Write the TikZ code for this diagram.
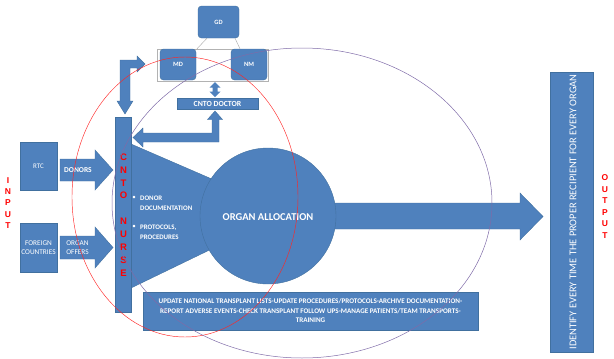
\documentclass[tikz,border=0pt]{standalone}
\usepackage{fontspec}
\setmainfont{Carlito}
\newfontfamily\arialf{Liberation Sans}
\usetikzlibrary{calc}
\definecolor{blueF}{HTML}{4F81BD}
\definecolor{blueD}{HTML}{41709F}
\definecolor{purp}{HTML}{7F6BA8}
\definecolor{redT}{HTML}{FF0000}
\tikzset{
  blk/.style={fill=blueF, draw=blueD, line width=0.4pt, text=white, align=center, inner sep=0pt},
  rbox/.style={blk, rounded corners=3.5pt},
  shp/.style={fill=blueF, draw=blueD, line width=0.4pt},
  wlab/.style={text=white, align=center, inner sep=0pt},
  redlet/.style={text=redT, align=center, inner sep=0pt, font=\arialf\bfseries\fontsize{9.5}{12.9}\selectfont},
}
\begin{document}
\begin{tikzpicture}[x=1pt,y=-1pt]
\useasboundingbox (0,0) rectangle (614,359);
% top hierarchy
\node[rbox, minimum width=41pt, minimum height=32pt, font=\bfseries\fontsize{6.5}{7}\selectfont] (gd) at (218.5,22) {GD};
\node[draw=gray!60, line width=0.5pt, minimum width=111pt, minimum height=32pt, inner sep=0] (frame) at (212.5,65) {};
\node[rbox, minimum width=36pt, minimum height=31pt, font=\bfseries\fontsize{6.5}{7}\selectfont] (md) at (178,64.5) {MD};
\node[rbox, minimum width=36pt, minimum height=31pt, font=\bfseries\fontsize{6.5}{7}\selectfont] (nm) at (249,64.5) {NM};
\draw[gray!70, line width=0.4pt] ($(gd.south)+(-11.5,0)$) -- ($(frame.north)+(-15.5,0)$);
\draw[gray!70, line width=0.4pt] ($(gd.south)+(16.5,0)$) -- ($(frame.north)+(27.5,0)$);
\node[blk, minimum width=81pt, minimum height=11pt, font=\bfseries\fontsize{7.8}{8}\selectfont] (doc) at (217.5,103.5) {CNTO DOCTOR};
% double arrow frame <-> doctor
\fill[blueF] (215,82) -- (220.5,87.5) -- (217.5,87.5) -- (217.5,91.5) -- (220.5,91.5) -- (215,97) -- (209.5,91.5) -- (212.5,91.5) -- (212.5,87.5) -- (209.5,87.5) -- cycle;
% input boxes
\node[blk, minimum width=37pt, minimum height=48pt, font=\fontsize{7}{8}\selectfont] (rtc) at (38.5,166) {RTC};
\node[blk, minimum width=37pt, minimum height=49pt, font=\fontsize{7.3}{9}\selectfont] (fc) at (38.5,247.5) {FOREIGN\\COUNTRIES};
% donors arrow
\fill[shp] (60,159) -- (95,159) -- (95,150) -- (113,170) -- (95,190) -- (95,181) -- (60,181) -- cycle;
\node[wlab, font=\bfseries\fontsize{7.5}{8}\selectfont] (donors) at (78,170.5) {DONORS};
% offers arrow
\fill[shp] (60,236) -- (95,236) -- (95,227) -- (113,247.5) -- (95,268) -- (95,259) -- (60,259) -- cycle;
\node[wlab, font=\fontsize{7.3}{9.5}\selectfont] (offers) at (77.5,247.5) {ORGAN\\OFFERS};
% funnel triangle
\fill[shp] (131,144) -- (288,212) -- (131,288) -- cycle;
% big output arrow
\fill[shp] (330,203) -- (520,203) -- (520,193) -- (543,216.5) -- (520,240) -- (520,229) -- (330,229) -- cycle;
% organ allocation circle
\node[circle, fill=blueF, draw=blueD, line width=0.4pt, minimum size=136pt, inner sep=0] (alloc) at (268,216) {};
\node[wlab, font=\bfseries\fontsize{10.5}{11}\selectfont] (alloclab) at (268,217) {ORGAN ALLOCATION};
% nurse bar
\node[blk, minimum width=16pt, minimum height=195pt] (nurse) at (123,214.5) {};
\node[redlet] (nurselab) at (123.5,215) {C\\N\\T\\O\\[12.9pt]N\\U\\R\\S\\E};
% arrow nurse -> MD
\fill[shp] (125,114) -- (133,101) -- (130,101) -- (130,68) -- (137,68) -- (137,72) -- (145,64) -- (137,56) -- (137,60) -- (120,60) -- (120,101) -- (117,101) -- cycle;
% arrow doctor -> nurse
\fill[shp] (215,111) -- (222.5,119.5) -- (219,119.5) -- (219,142) -- (143,142) -- (143,147) -- (133,137.5) -- (143,128) -- (143,133) -- (212,133) -- (212,119.5) -- (207.5,119.5) -- cycle;
% bullet texts
\node[wlab, font=\fontsize{7}{7}\selectfont] (b1) at (134,198) {\textbullet};
\node[wlab, anchor=west, align=left, font=\bfseries\fontsize{6.9}{9.8}\selectfont] (t1) at (140,203) {DONOR\\DOCUMENTATION};
\node[wlab, font=\fontsize{7}{7}\selectfont] (b2) at (134,227) {\textbullet};
\node[wlab, anchor=west, align=left, font=\bfseries\fontsize{6.9}{9.8}\selectfont] (t2) at (140,232) {PROTOCOLS,\\PROCEDURES};
% bottom box
\node[blk, minimum width=335pt, minimum height=38pt, font=\bfseries\fontsize{7.1}{9.5}\selectfont] (tasks) at (310.5,311) {UPDATE NATIONAL TRANSPLANT LISTS-UPDATE PROCEDURES/PROTOCOLS-ARCHIVE DOCUMENTATION-\\REPORT ADVERSE EVENTS-CHECK TRANSPLANT FOLLOW UPS-MANAGE PATIENTS/TEAM TRANSPORTS-\\TRAINING};
% output box
\node[blk, minimum width=43pt, minimum height=280pt] (out) at (571.5,212) {};
\node[wlab, rotate=90, font=\fontsize{10.4}{11}\selectfont] (outlab) at (573,212) {IDENTIFY EVERY TIME THE PROPER RECIPIENT FOR EVERY ORGAN};
% side labels
\node[redlet, font=\arialf\bfseries\fontsize{8.5}{11.25}\selectfont] (input) at (8,203) {I\\N\\P\\U\\T};
\node[redlet, font=\arialf\bfseries\fontsize{8.5}{11.6}\selectfont] (output) at (605,206.5) {O\\U\\T\\P\\U\\T};
% overlay ellipses
\draw[redT!85!white, line width=0.45pt] (185,197) ellipse [x radius=113, y radius=140];
\draw[purp, line width=0.5pt] (302,203) ellipse [x radius=190, y radius=155];
\end{tikzpicture}
\end{document}
